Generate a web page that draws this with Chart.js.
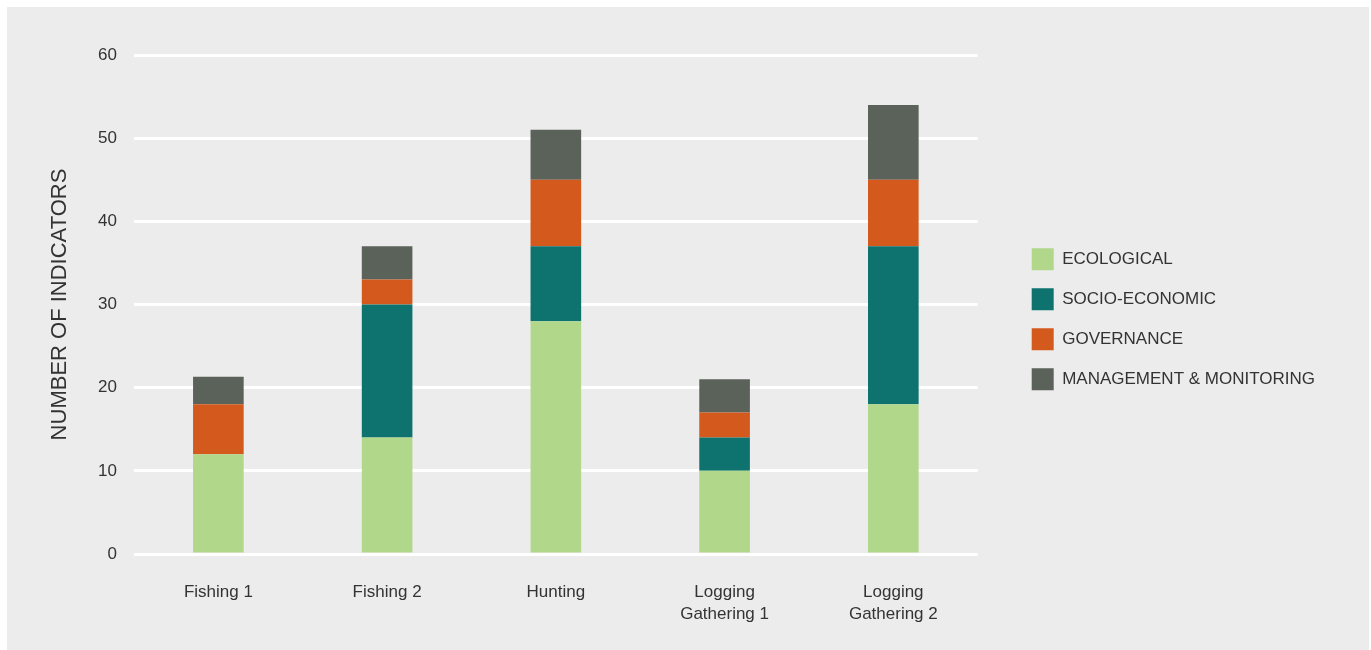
<!DOCTYPE html>
<html>
<head>
<meta charset="utf-8">
<script src="https://cdn.jsdelivr.net/npm/chart.js@4.4.1/dist/chart.umd.min.js"></script>
<style>
  html, body { margin: 0; padding: 0; background: #ffffff; }
  #panel { position: absolute; left: 7px; top: 7px; width: 1362px; height: 643px; background: #ececec; }
  #wrap { position: absolute; left: 0; top: 0; width: 1371px; height: 650px; }
</style>
</head>
<body>
<div id="panel"></div>
<div id="wrap"><canvas id="c" width="1371" height="650"></canvas></div>
<script>
const categories = ['Fishing 1', 'Fishing 2', 'Hunting', ['Logging', 'Gathering 1'], ['Logging', 'Gathering 2']];
const seriesNames = ['ECOLOGICAL', 'SOCIO-ECONOMIC', 'GOVERNANCE', 'MANAGEMENT & MONITORING'];
const ecological = [12, 14, 28, 10, 18];
const socioEconomic = [0, 16, 9, 4, 19];
const governance = [6, 3, 8, 3, 8];
const management = [3.3, 4, 6, 4, 9];
const yTicks = [0, 10, 20, 30, 40, 50, 60];
const axisTitle = 'NUMBER OF INDICATORS';

const colors = ['#b1d78b', '#0e736f', '#d35a1c', '#5b625a'];
const values = [ecological, socioEconomic, governance, management];

const datasets = seriesNames.map((name, i) => ({
  label: name,
  data: values[i],
  backgroundColor: colors[i],
  borderWidth: 0,
  barPercentage: 0.3,
  categoryPercentage: 1.0
}));

const font = "'Liberation Sans', Arial, Helvetica, sans-serif";
const textColor = '#333333';

new Chart(document.getElementById('c'), {
  type: 'bar',
  data: { labels: categories, datasets },
  options: {
    responsive: false,
    animation: false,
    layout: { padding: { top: 55, right: 46, bottom: 0, left: 0 } },
    plugins: {
      tooltip: { enabled: false },
      legend: {
        position: 'right',
        fullSize: false,
        title: { display: true, text: '', padding: { top: 15, bottom: 0 }, font: { size: 12 } },
        labels: {
          boxWidth: 22,
          boxHeight: 22,
          padding: 18,
          color: textColor,
          font: { family: font, size: 17 }
        }
      }
    },
    scales: {
      x: {
        stacked: true,
        grid: { display: false },
        border: { display: false },
        ticks: {
          color: textColor,
          padding: 19,
          maxRotation: 0,
          autoSkip: false,
          font: { family: font, size: 17, lineHeight: 1.3 }
        },
        afterFit(s) { s.height = 96; }
      },
      y: {
        stacked: true,
        min: 0,
        max: 60,
        afterBuildTicks(s) { s.ticks = yTicks.map(v => ({ value: v })); },
        grid: { color: '#ffffff', lineWidth: 3, drawTicks: false },
        border: { display: false },
        ticks: {
          color: textColor,
          padding: 17,
          font: { family: font, size: 17 }
        },
        title: {
          display: true,
          text: axisTitle,
          color: textColor,
          padding: { top: 47, bottom: 0 },
          font: { family: font, size: 22, lineHeight: 1.2 }
        },
        afterFit(s) { s.width = 134; }
      },
      y2: {
        position: 'right',
        display: false,
        afterFit(s) { s.width = 36; }
      }
    }
  }
});
</script>
</body>
</html>
